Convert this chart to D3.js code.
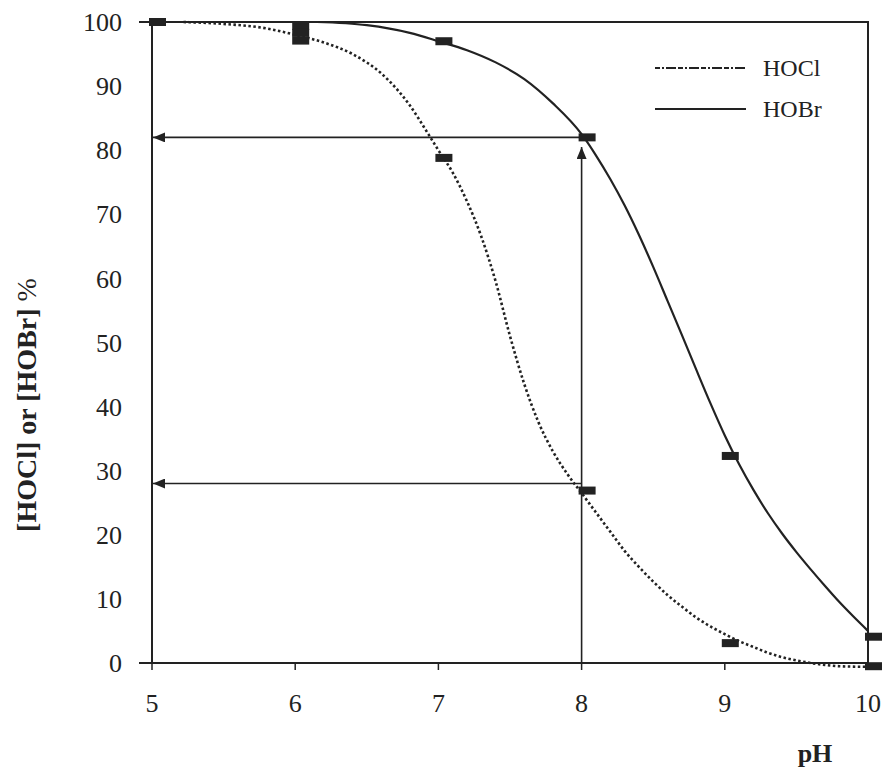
<html>
  <head>
    <script src="https://d3js.org/d3.v7.min.js"></script>
  </head>
  <body style="margin:0;background:#fff">
<div id="my_dataviz"></div>
   <script>
// tick labels
var phTicks = [5, 6, 7, 8, 9, 10];
var pctTicks = [0, 10, 20, 30, 40, 50, 60, 70, 80, 90, 100];

// curves (pH, %)
var hoclCurvePH  = [5.22, 5.5, 5.8, 6.0, 6.2, 6.4, 6.6, 6.8, 6.93, 7.0, 7.1, 7.2, 7.3, 7.4, 7.5, 7.6, 7.7, 7.8, 7.9, 8.0,
                    8.1, 8.2, 8.3, 8.4, 8.5, 8.6, 8.7, 8.8, 8.9, 9.0, 9.1, 9.2, 9.3, 9.4, 9.5, 9.6, 9.7, 9.8, 10];
var hoclCurveVal = [100, 99.7, 99, 98, 96.8, 95, 92, 87, 82.5, 80, 76.5, 72, 66.5, 59.5, 51, 43.5, 37.5, 33, 29.5, 26.5,
                    23.5, 20.5, 17.5, 15, 12.7, 10.6, 8.8, 7.1, 5.7, 4.5, 3.4, 2.5, 1.6, 0.9, 0.4, 0, -0.3, -0.5, -0.6];
var hobrCurvePH  = [6.15, 6.5, 6.8, 7.0, 7.2, 7.4, 7.6, 7.8, 8.0, 8.1, 8.2, 8.3, 8.4, 8.5, 8.6, 8.7, 8.8, 8.9, 9.0,
                    9.1, 9.2, 9.3, 9.4, 9.5, 9.6, 9.7, 9.8, 9.9, 10];
var hobrCurveVal = [100, 99.5, 98.3, 97, 95.6, 93.7, 91.1, 87.3, 82.5, 79.2, 75.5, 71.4, 66.8, 61.8, 56.5, 51.2, 45.8, 40.5, 35.5,
                    31, 27, 23.4, 20.2, 17.3, 14.6, 12.0, 9.5, 7.2, 5.0];

// measured points (square markers)
var hoclMarkPH  = [5, 6, 7, 8, 9, 10];
var hoclMarkVal = [100, 97.1, 78.8, 26.9, 3.1, -0.5];
var hobrMarkPH  = [5, 6, 6, 7, 8, 9, 10];
var hobrMarkVal = [100, 99.4, 98.3, 97, 82, 32.3, 4.1];

// reading arrows at pH 8
var readPH = 8;
var readHobr = 82;
var readHocl = 28;

var width = 886, height = 774;

var svg = d3.select("#my_dataviz")
  .append("svg")
    .attr("width", width)
    .attr("height", height);

var x = d3.scaleLinear().domain([5, 10]).range([152, 868]);
var y = d3.scaleLinear().domain([0, 100]).range([663, 22]);

var ink = "#222";
var serif = "'Liberation Serif', 'DejaVu Serif', serif";

// arrow head
svg.append("defs").append("marker")
    .attr("id", "head")
    .attr("viewBox", "0 0 12 10")
    .attr("refX", 12).attr("refY", 5)
    .attr("markerWidth", 12).attr("markerHeight", 10)
    .attr("markerUnits", "userSpaceOnUse")
    .attr("orient", "auto")
  .append("path")
    .attr("d", "M0,0 L12,5 L0,10 Z")
    .attr("fill", ink);

// plot box
svg.append("rect")
  .attr("x", x(5)).attr("y", y(100))
  .attr("width", x(10) - x(5)).attr("height", y(0) - y(100))
  .attr("fill", "none").attr("stroke", ink).attr("stroke-width", 2);
// tick stubs at 0 and 100 on the left
[0, 100].forEach(function (v) {
  svg.append("line").attr("x1", x(5) - 13).attr("x2", x(5))
    .attr("y1", y(v)).attr("y2", y(v))
    .attr("stroke", ink).attr("stroke-width", 2);
});
// x ticks
svg.append("g").selectAll("line").data(phTicks).enter().append("line")
  .attr("x1", function (d) { return x(d); }).attr("x2", function (d) { return x(d); })
  .attr("y1", y(0)).attr("y2", y(0) + 7)
  .attr("stroke", ink).attr("stroke-width", 1.5);

// tick labels
svg.append("g").selectAll("text").data(pctTicks).enter().append("text")
  .attr("x", 122).attr("y", function (d) { return y(d); })
  .attr("dy", "0.35em")
  .attr("text-anchor", "end")
  .style("font-family", serif).style("font-size", "26px").attr("fill", "#222")
  .text(function (d) { return d; });
svg.append("g").selectAll("text").data(phTicks).enter().append("text")
  .attr("x", function (d) { return x(d); }).attr("y", 712)
  .attr("text-anchor", "middle")
  .style("font-family", serif).style("font-size", "26px").attr("fill", "#222")
  .text(function (d) { return d; });

// axis titles
var yt = svg.append("text")
  .attr("transform", "translate(36,405) rotate(-90)")
  .attr("text-anchor", "middle")
  .style("font-family", serif).style("font-size", "28px").attr("fill", "#222");
yt.append("tspan").style("font-weight", "bold").text("[HOCl] or [HOBr] ");
yt.append("tspan").text("%");
svg.append("text")
  .attr("x", 815).attr("y", 762)
  .attr("text-anchor", "middle")
  .style("font-family", serif).style("font-size", "26px").style("font-weight", "bold")
  .attr("fill", "#222")
  .text("pH");

// reading arrows
[readHobr, readHocl].forEach(function (v) {
  svg.append("line")
    .attr("x1", x(readPH)).attr("y1", y(v))
    .attr("x2", x(5) + 1).attr("y2", y(v))
    .attr("stroke", ink).attr("stroke-width", 1.6)
    .attr("marker-end", "url(#head)");
});
svg.append("line")
  .attr("x1", x(readPH)).attr("y1", y(0))
  .attr("x2", x(readPH)).attr("y2", y(80.5))
  .attr("stroke", ink).attr("stroke-width", 1.6)
  .attr("marker-end", "url(#head)");

// curves
var line = d3.line()
  .x(function (d) { return x(d[0]); })
  .y(function (d) { return y(d[1]); })
  .curve(d3.curveMonotoneX);

svg.append("path")
  .datum(d3.zip(hoclCurvePH, hoclCurveVal))
  .attr("d", line)
  .attr("fill", "none").attr("stroke", ink)
  .attr("stroke-width", 2.6).attr("stroke-dasharray", "2.5,2.5");
svg.append("path")
  .datum(d3.zip(hobrCurvePH, hobrCurveVal))
  .attr("d", line)
  .attr("fill", "none").attr("stroke", ink)
  .attr("stroke-width", 2.2);

// markers
var pts = d3.zip(hoclMarkPH, hoclMarkVal).concat(d3.zip(hobrMarkPH, hobrMarkVal));
svg.append("g").selectAll("rect").data(pts).enter().append("rect")
  .attr("x", function (d) { return x(d[0]) - 3; })
  .attr("y", function (d) { return y(d[1]) - 4; })
  .attr("width", 17).attr("height", 8)
  .attr("fill", ink);

// legend
var legend = [["HOCl", "5,2,2,2,10,2"], ["HOBr", null]];
legend.forEach(function (d, i) {
  var ly = 68 + i * 41;
  svg.append("line")
    .attr("x1", 655).attr("x2", 746).attr("y1", ly).attr("y2", ly)
    .attr("stroke", ink).attr("stroke-width", 2.2)
    .attr("stroke-dasharray", d[1]);
  svg.append("text")
    .attr("x", 763).attr("y", ly).attr("dy", "0.35em")
    .style("font-family", serif).style("font-size", "24px").attr("fill", "#222")
    .text(d[0]);
});
</script>
  </body>
</html>
